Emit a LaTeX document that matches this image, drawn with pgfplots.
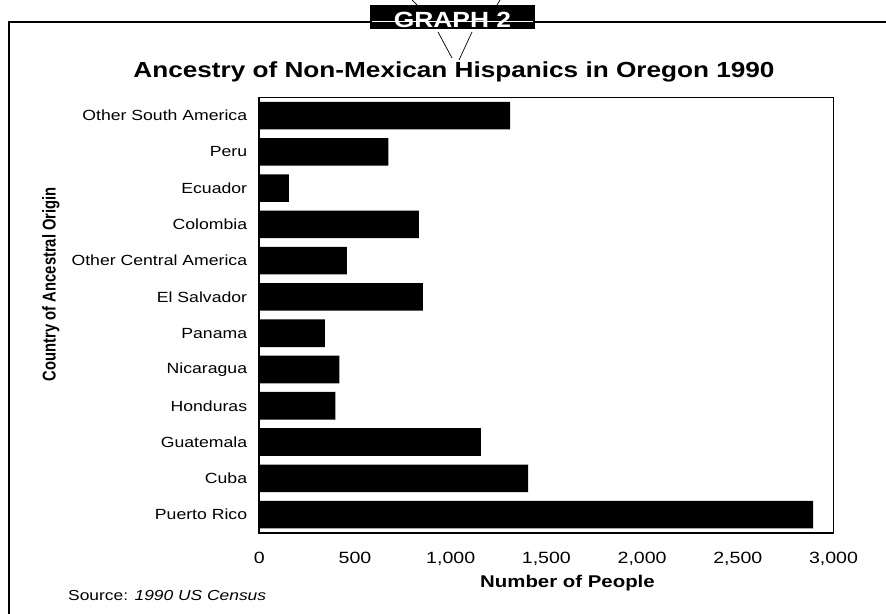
\documentclass[border=0pt]{standalone}
\usepackage{fontspec}
\setmainfont[FakeStretch=1.2]{Liberation Sans}
\newfontfamily\plainsans{Liberation Sans}
\usepackage{pgfplots}
\pgfplotsset{compat=1.18}

\begin{document}
\begin{tikzpicture}
\useasboundingbox (0,0) rectangle (886bp,614bp);
% outer frame (cut off at right and bottom)
\draw[line width=2.2bp] (886bp,592bp) -- (9bp,592bp) -- (9bp,0bp);

\begin{axis}[
  at={(259.3bp,81.3bp)}, anchor=south west,
  scale only axis, width=574.2bp, height=435.2bp,
  xbar, bar width=0.76,
  xmin=0, xmax=3000, ymin=-0.5, ymax=11.5,
  ytick={0,...,11},
  yticklabels={Puerto Rico, Cuba, Guatemala, Honduras, Nicaragua, Panama,
    El Salvador, Other Central America, Colombia, Ecuador, Peru, Other South America},
  xtick={0,500,...,3000},
  major tick length=0pt,
  axis line style={line width=1.8bp},
  tick label style={font=\fontsize{14.7bp}{17bp}\selectfont, inner sep=0pt},
  x tick label style={yshift=-19bp, font=\fontsize{16.3bp}{18bp}\selectfont},
  y tick label style={xshift=-12bp},
  /pgf/number format/.cd, 1000 sep={,}, assume math mode=true,
]
\addplot[fill=black, draw=none] coordinates {
  (2894,0) (1405,1) (1158,2) (397,3) (418,4) (342,5)
  (854,6) (458,7) (834,8) (155,9) (674,10) (1310,11)};
\end{axis}

% titles and labels
\node[anchor=base, inner sep=0pt, font=\bfseries\fontsize{21.8bp}{24bp}\selectfont]
  at (454bp,536bp) {Ancestry of Non-Mexican Hispanics in Oregon 1990};
\node[anchor=base west, inner sep=0pt, font=\bfseries\fontsize{17bp}{19bp}\selectfont]
  at (480bp,27bp) {Number of People};
\node[rotate=90, yscale=1.25, inner sep=0pt, font=\plainsans\bfseries\fontsize{14.8bp}{17bp}\selectfont]
  at (51bp,330bp) {Country of Ancestral Origin};
\node[anchor=base west, inner sep=0pt, font=\fontsize{14.5bp}{17bp}\selectfont]
  at (68bp,14bp) {Source: \textit{1990 US Census}};

% GRAPH 2 badge
\fill (370bp,585bp) rectangle (535bp,609bp);
\node[anchor=base, inner sep=0pt, text=white, font=\bfseries\fontsize{22bp}{24bp}\selectfont]
  at (452.5bp,586.5bp) {GRAPH 2};
\draw[white, line width=1bp] (372bp,592bp) -- (533bp,592bp);
\draw[line width=0.7bp] (412bp,614bp) -- (417bp,609bp);
\draw[line width=0.7bp] (500bp,614bp) -- (497bp,609bp);
\draw[line width=0.7bp] (438bp,582bp) -- (452bp,556bp);
\draw[line width=0.7bp] (472bp,582bp) -- (459bp,554bp);
\end{tikzpicture}
\end{document}
